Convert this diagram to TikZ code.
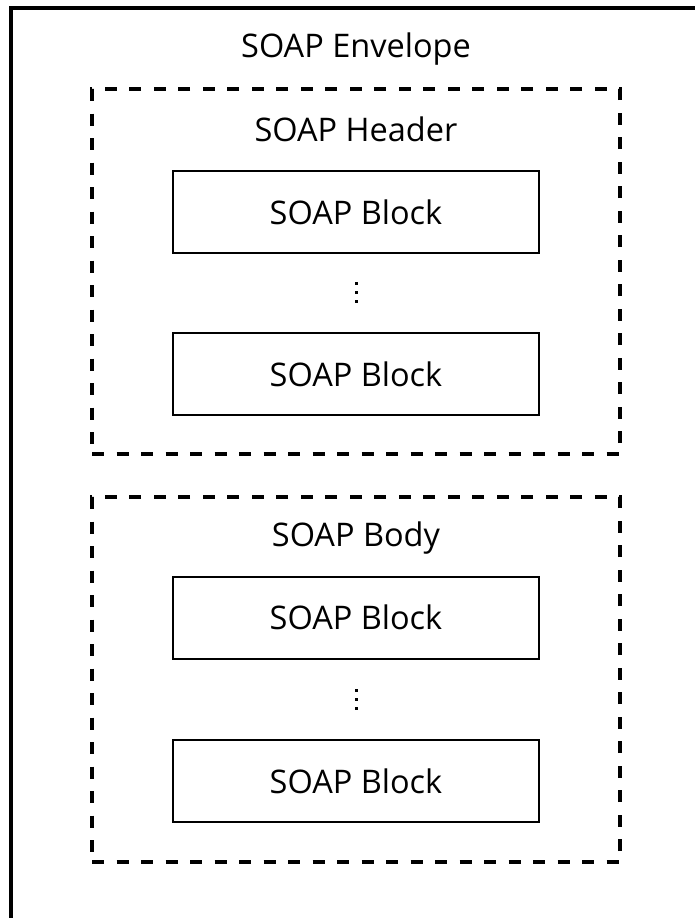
\documentclass[tikz,border=0pt]{standalone}
\usepackage{fontspec}
\setmainfont{Open Sans}

\begin{document}
\begin{tikzpicture}[x=1pt,y=-1pt,font=\fontsize{32.5}{38}\selectfont]
    \tikzstyle{envbox}=[draw=black,line width=4pt,inner sep=0pt,minimum width=694pt,minimum height=922pt]
    \tikzstyle{partbox}=[draw=black,line width=4pt,dash pattern=on 12pt off 12.5pt,inner sep=0pt,minimum width=528pt,minimum height=365pt]
    \tikzstyle{block}=[draw=black,line width=2pt,inner sep=0pt,minimum width=366pt,minimum height=82pt]
    \tikzstyle{label}=[anchor=base,inner sep=0pt]

    \useasboundingbox (0,0) rectangle (695,918);
    \clip (0,0) rectangle (695,918);

    % outer envelope and the two parts
    \node[envbox] (env) at (358,469) {};
    \node[partbox] (header) at (356,271.5) {};
    \node[partbox] (body) at (356,679.5) {};

    \node[label] (env-label) at (356,57) {SOAP Envelope};
    \node[label] (header-label) at (356,141) {SOAP Header};
    \node[label] (body-label) at (356,546) {SOAP Body};

    % blocks
    \foreach \name/\y in {H-1/212, H-2/374, B-1/617.5, B-2/781}
        \node[block] (\name) at (356,\y) {SOAP Block};

    % dots between the blocks
    \foreach \y in {292, 699}
        \foreach \d in {-9,0,9}
            \fill (354.5,\y+\d-1.5) rectangle ++(3,3);
\end{tikzpicture}
\end{document}
